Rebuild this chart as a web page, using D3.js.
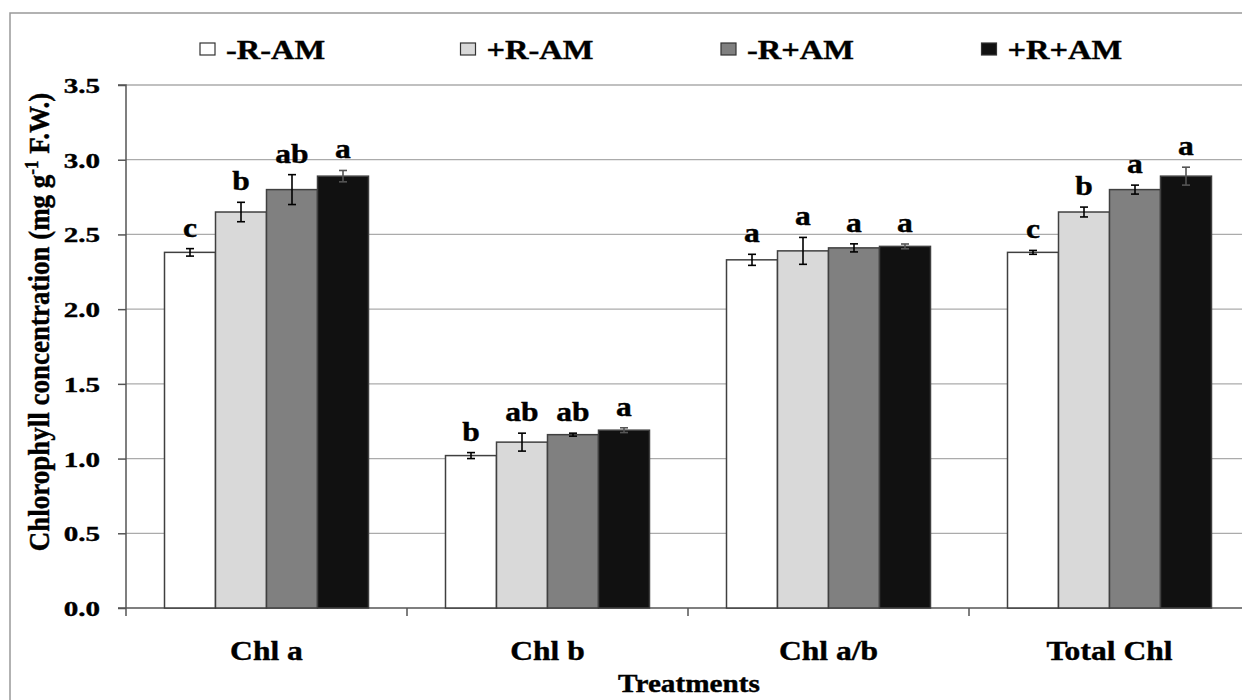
<!DOCTYPE html>
<html><head><meta charset="utf-8">
<script src="https://cdn.jsdelivr.net/npm/d3@7"></script>
<style>
html,body{margin:0;padding:0;background:#fff;overflow:hidden}
text{font-family:"Liberation Serif","Times New Roman",serif;font-weight:bold;fill:#000}
</style></head>
<body>
<svg id="chart" width="1242" height="700"></svg>
<script>
const categories = ["Chl a", "Chl b", "Chl a/b", "Total Chl"];
const seriesNames = ["-R-AM", "+R-AM", "-R+AM", "+R+AM"];
const valsNegRNegAM = [2.38, 1.02, 2.33, 2.38];
const valsPosRNegAM = [2.65, 1.11, 2.39, 2.65];
const valsNegRPosAM = [2.80, 1.16, 2.41, 2.80];
const valsPosRPosAM = [2.89, 1.19, 2.42, 2.89];
const errNegRNegAM = [0.025, 0.02, 0.037, 0.013];
const errPosRNegAM = [0.065, 0.06, 0.09, 0.033];
const errNegRPosAM = [0.10, 0.01, 0.027, 0.03];
const errPosRPosAM = [0.038, 0.016, 0.016, 0.06];
const lettersNegRNegAM = ["c", "b", "a", "c"];
const lettersPosRNegAM = ["b", "ab", "a", "b"];
const lettersNegRPosAM = ["ab", "ab", "a", "a"];
const lettersPosRPosAM = ["a", "a", "a", "a"];
const yTicks = [0, 0.5, 1.0, 1.5, 2.0, 2.5, 3.0, 3.5];
const xTitle = "Treatments";

const values = [valsNegRNegAM, valsPosRNegAM, valsNegRPosAM, valsPosRPosAM];
const errors = [errNegRNegAM, errPosRNegAM, errNegRPosAM, errPosRPosAM];
const letters = [lettersNegRNegAM, lettersPosRNegAM, lettersNegRPosAM, lettersPosRPosAM];
const fills = ["#ffffff", "#d9d9d9", "#808080", "#111111"];

const SX = 1.17;
const svg = d3.select("#chart");
svg.append("rect").attr("width",1242).attr("height",700).attr("fill","#fff");
// outer frame
svg.append("rect").attr("x",10).attr("y",13).attr("width",1300).attr("height",800)
  .attr("fill","none").attr("stroke","#999").attr("stroke-width",1.5);

const x0 = d3.scaleBand().domain(categories).range([126, 1250]).paddingInner(0).paddingOuter(0);
const x1 = d3.scaleBand().domain(seriesNames).range([0, x0.bandwidth()]).paddingInner(0).paddingOuter(0.755);
const y = d3.scaleLinear().domain([0, 3.5]).range([608, 85]);

function stext(parent, x, yy, str, size, anchor, sx) {
  const g = parent.append("g").attr("transform", `translate(${x},${yy}) scale(${sx||SX},1)`);
  return g.append("text").attr("text-anchor", anchor || "middle").attr("font-size", size)
    .attr("stroke", "#000").attr("stroke-width", 0.4).text(str);
}

// gridlines
svg.append("g").selectAll("line").data(yTicks.filter(t => t > 0)).join("line")
  .attr("x1", 126).attr("x2", 1250).attr("y1", d => y(d)).attr("y2", d => y(d))
  .attr("stroke", "#ababab").attr("stroke-width", 1.3);

// y axis
const yAxis = svg.append("g").attr("transform","translate(126,0)")
  .call(d3.axisLeft(y).tickValues(yTicks).tickSize(8).tickFormat(""));
yAxis.selectAll("path,line").attr("stroke","#555").attr("stroke-width",1.5);
yAxis.select(".domain").attr("d", `M-8,${y(3.5)}H0V${y(0)}`);
yTicks.forEach(t => stext(svg, 100, y(t) + 8, d3.format(".1f")(t), 22, "end", 1.32));

// x axis
const xAxis = svg.append("g").attr("transform", `translate(0,${y(0)})`)
  .call(d3.axisBottom(x0).tickSize(0).tickFormat(""));
xAxis.select(".domain").attr("d", "M118,0H1250").attr("stroke","#555").attr("stroke-width",1.5);
const bounds = categories.map(c => x0(c)).concat([x0(categories[3]) + x0.bandwidth()]);
svg.append("g").selectAll("line").data(bounds).join("line")
  .attr("x1", d => d).attr("x2", d => d).attr("y1", y(0)).attr("y2", y(0) + 8)
  .attr("stroke","#555").attr("stroke-width",1.5);
categories.forEach(c => stext(svg, x0(c) + x0.bandwidth()/2, 660, c, 27, "middle"));
stext(svg, 689, 692, xTitle, 25, "middle");

// bars
seriesNames.forEach((s, si) => {
  const g = svg.append("g");
  categories.forEach((c, ci) => {
    const v = values[si][ci], e = errors[si][ci];
    const bx = x0(c) + x1(s), bw = x1.bandwidth();
    g.append("rect").attr("x", bx).attr("y", y(v)).attr("width", bw).attr("height", y(0) - y(v))
      .attr("fill", fills[si]).attr("stroke", "#404040").attr("stroke-width", 1.5);
    const cx = bx + bw / 2;
    const eg = g.append("g").attr("stroke", si === 3 ? "#555" : "#000").attr("stroke-width", 1.6);
    eg.append("line").attr("x1", cx).attr("x2", cx).attr("y1", y(v + e)).attr("y2", y(v - e));
    eg.append("line").attr("x1", cx - 4).attr("x2", cx + 4).attr("y1", y(v + e)).attr("y2", y(v + e));
    eg.append("line").attr("x1", cx - 4).attr("x2", cx + 4).attr("y1", y(v - e)).attr("y2", y(v - e));
    stext(g, cx, y(v + e) - 12, letters[si][ci], 27, "middle");
  });
});

// y title
const yt = svg.append("g").attr("transform", "translate(49,322) scale(1.1,1) rotate(-90)")
  .append("text").attr("text-anchor","middle").attr("font-size", 27)
  .attr("stroke", "#000").attr("stroke-width", 0.4);
yt.append("tspan").text("Chlorophyll concentration (mg g");
yt.append("tspan").attr("font-size", 17).attr("dy", -10).text("-1");
yt.append("tspan").attr("dy", 10).text(" F.W.)");

// legend
const legend = svg.append("g");
seriesNames.forEach((s, i) => {
  const lx = 200 + i * 260.5;
  legend.append("rect").attr("x", lx).attr("y", 43).attr("width", 15).attr("height", 12)
    .attr("fill", fills[i]).attr("stroke", "#333").attr("stroke-width", 1.2);
  stext(legend, lx + 26, 59, s, 28, "start", 1.16);
});
</script>
</body></html>
